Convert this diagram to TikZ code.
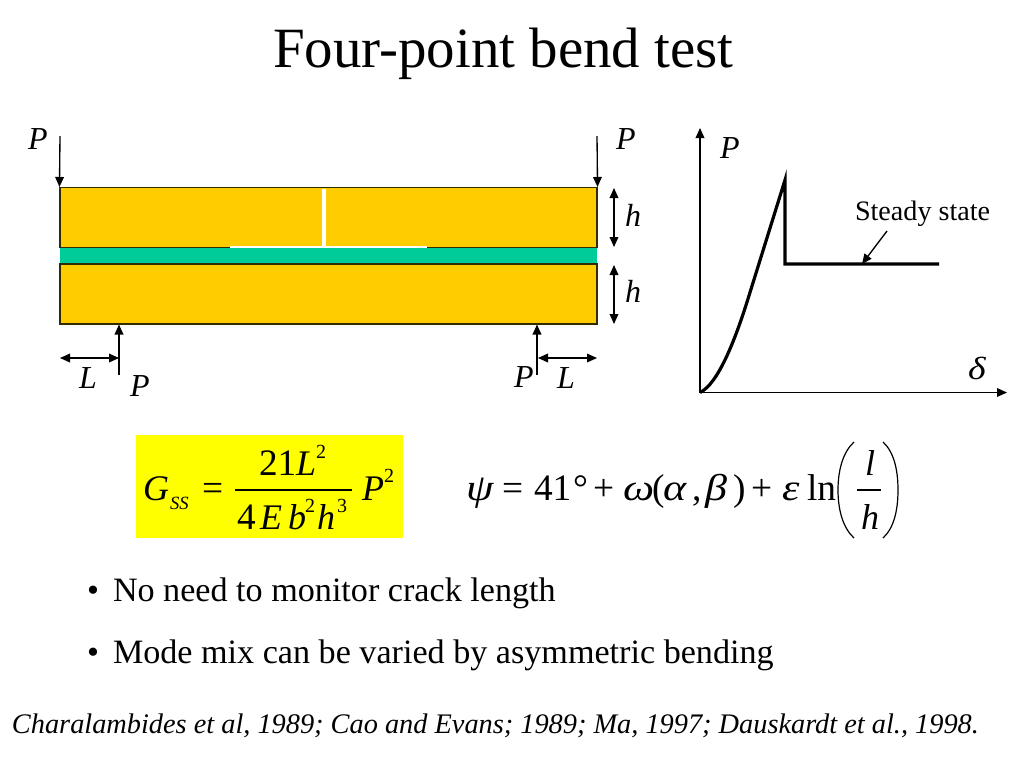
\documentclass[tikz,border=0pt]{standalone}
\usepackage{fontspec}
\setmainfont{Liberation Serif}
\newfontfamily\grkfont[FakeStretch=1.18]{Liberation Serif}
\usetikzlibrary{arrows.meta}
\definecolor{beamcol}{HTML}{FFCC00}
\definecolor{bondcol}{HTML}{00CC99}
\definecolor{edgecol}{HTML}{332B00}
\definecolor{boxcol}{RGB}{255,255,0}
\newcommand{\szf}[1]{\fontsize{#1}{#1}\selectfont}
\tikzset{
  x=0.75pt,y=-0.75pt,
  tx/.style={anchor=base west,inner sep=0pt,outer sep=0pt,text=black},
  lab/.style={tx,font=\szf{24}\itshape},
  eqn/.style={tx,font=\szf{27}\itshape},
  eqg/.style={tx,font=\grkfont\szf{28}\itshape},
  eqr/.style={tx,font=\szf{28}},
  sup/.style={tx,font=\szf{15}},
  body/.style={tx,font=\szf{25.6}},
  beam/.style={draw=edgecol,line width=0.8pt,fill=beamcol,minimum width=402.75pt,minimum height=45pt,inner sep=0pt},
  bond/.style={fill=bondcol,minimum width=402.75pt,minimum height=12.4pt,inner sep=0pt},
  thin line/.style={line width=1pt,draw=black},
  load/.style={thin line,-{Triangle[length=7.5pt,width=6.5pt]}},
  dim/.style={thin line,{Triangle[length=7.5pt,width=6.5pt]}-{Triangle[length=7.5pt,width=6.5pt]}},
  curve/.style={line width=2.4pt,draw=black},
  rule/.style={line width=1pt,draw=black},
  crack/.style={line width=3pt,draw=white},
}
\begin{document}
\begin{tikzpicture}
\useasboundingbox (0,0) rectangle (1024,768);
\fill[white] (0,0) rectangle (1024,768);
% title
\node[tx,font=\szf{42.7}] (title) at (273,67) {Four-point bend test};
% beams
\node[bond] (bondlayer) at (328.5,255.7) {};
\node[beam] (topbeam) at (328.5,217.5) {};
\node[beam] (botbeam) at (328.5,294) {};
% crack
\coordinate (crackTop) at (324,188.5);
\coordinate (crackMid) at (324,247);
\coordinate (crackL) at (230,247);
\coordinate (crackR) at (427,247);
\draw[crack] (crackTop) -- (crackMid);
\draw[crack,line width=2.2pt] (crackL) -- (crackR);
% load arrows
\coordinate (tl) at (60,136);
\coordinate (tr) at (597,136);
\coordinate (bl) at (119,375);
\coordinate (br) at (537,375);
\coordinate (blEnd) at (119,324.5);
\coordinate (brEnd) at (537,324.5);
\draw[load] (tl) -- (topbeam.north west);
\draw[load] (tr) -- (topbeam.north east);
\draw[load] (bl) -- (blEnd);
\draw[load] (br) -- (brEnd);
% dimensions
\coordinate (l1a) at (60,358); \coordinate (l1b) at (119,358);
\coordinate (l2a) at (538,358); \coordinate (l2b) at (597,358);
\coordinate (h1a) at (614,188); \coordinate (h1b) at (614,247);
\coordinate (h2a) at (614,265); \coordinate (h2b) at (614,324);
\draw[dim] (l1a) -- (l1b);
\draw[dim] (l2a) -- (l2b);
\draw[dim] (h1a) -- (h1b);
\draw[dim] (h2a) -- (h2b);
% beam labels
\node[lab] (p1) at (28,149) {P};
\node[lab] (p2) at (616,149) {P};
\node[lab] (p3) at (130,396) {P};
\node[lab] (p4) at (514,387) {P};
\node[lab] (l1) at (79,388) {L};
\node[lab] (l2) at (557,388) {L};
\node[lab] (h1) at (625,226) {h};
\node[lab] (h2) at (625,302) {h};
% graph
\coordinate (org) at (700,392.5);
\coordinate (yend) at (700,128);
\coordinate (xend) at (1007,392.5);
\draw[load] (org) -- (yend);
\draw[load] (org) -- (xend);
\coordinate (peak) at (785,180);
\coordinate (drop) at (785,264);
\coordinate (tail) at (939,264);
\draw[curve,line join=miter] (org) .. controls (718,384) and (735,340) .. (747,302) -- (peak) -- (drop) -- (tail);
\node[lab] (gP) at (720,158) {P};
\node[tx,font=\grkfont\szf{24}\itshape] (gd) at (968,379) {δ};
\node[tx,font=\szf{21.1}] (steady) at (855,220) {Steady state};
\coordinate (sa) at (887,231);
\coordinate (sb) at (862,264);
\draw[load] (sa) -- (sb);
% yellow formula
\fill[boxcol] (136,435) rectangle (403,538);
\node[eqn] (G) at (143,500) {G};
\node[tx,font=\szf{14}\itshape] (ss) at (170,509) {SS};
\node[eqr] (eq1) at (202,500) {=};
\coordinate (fa) at (235,490); \coordinate (fb) at (352,490);
\draw[rule] (fa) -- (fb);
\node[eqr] (n21) at (259,475) {21};
\node[eqn] (nL) at (296,475) {L};
\node[sup] (nL2) at (316,458) {2};
\node[eqr] (d4) at (237,529) {4};
\node[eqn] (dE) at (260,529) {E};
\node[eqn] (db) at (288,529) {b};
\node[sup] (db2) at (305,512) {2};
\node[eqn] (dh) at (317,529) {h};
\node[sup] (dh3) at (337,512) {3};
\node[eqn] (PP) at (362,500) {P};
\node[sup] (PP2) at (384,482) {2};
% mode mix formula
\node[eqg] (psi) at (466,500) {ψ};
\node[eqr] (eq2) at (502,500) {=};
\node[eqr] (n41) at (534,500) {41};
\node[eqr] (deg) at (573,500) {°};
\node[eqr] (pl1) at (593,500) {+};
\node[eqg] (om) at (623,500) {ω};
\node[eqr] (lp) at (652,500) {(};
\node[eqg] (al) at (663,500) {α};
\node[eqr] (co) at (692,500) {,};
\node[eqg] (be) at (705,500) {β};
\node[eqr] (rp) at (733,500) {)};
\node[eqr] (pl2) at (751,500) {+};
\node[eqg] (ep) at (782,500) {ε};
\node[eqr] (ln) at (807,500) {ln};
\node[eqn] (fl) at (865,475) {l};
\coordinate (ga) at (857,490); \coordinate (gb) at (881,490);
\draw[rule] (ga) -- (gb);
\node[eqn] (fh) at (861,529) {h};
\coordinate (pa) at (854,442); \coordinate (pb) at (854,538);
\coordinate (qa) at (883,442); \coordinate (qb) at (883,538);
\draw[line width=0.9pt] (pa) .. controls (843,452) and (838,470) .. (838,490) .. controls (838,510) and (843,528) .. (pb);
\draw[line width=0.9pt] (qa) .. controls (894,452) and (898,470) .. (898,490) .. controls (898,510) and (894,528) .. (qb);
% bullets
\node[body] (b1) at (87,601.7) {•};
\node[body] (t1) at (113,601.7) {No need to monitor crack length};
\node[body] (b2) at (87,663.7) {•};
\node[body] (t2) at (113,663.7) {Mode mix can be varied by asymmetric bending};
% citation
\node[tx,font=\szf{21.25}\itshape] (cite) at (12,733) {Charalambides et al, 1989; Cao and Evans; 1989; Ma, 1997; Dauskardt et al., 1998.};
\end{tikzpicture}
\end{document}
